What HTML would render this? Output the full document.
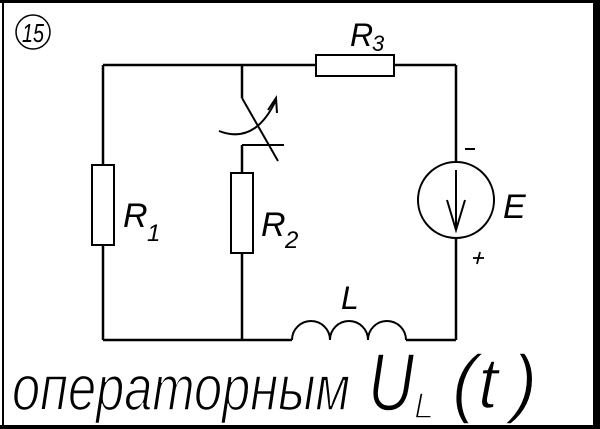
<!DOCTYPE html>
<html><head><meta charset="utf-8"><style>
html,body{margin:0;padding:0;background:#fff;}
svg{display:block;}
text{font-family:"Liberation Sans",sans-serif;font-style:italic;fill:#000;}
.thin{stroke:#fff;stroke-width:1.6;}
</style></head><body>
<svg width="600" height="429" viewBox="0 0 600 429" xmlns="http://www.w3.org/2000/svg">
<rect x="0" y="0" width="600" height="429" fill="#fff"/>
<line x1="3" y1="0" x2="3" y2="429" stroke="#000" stroke-width="2"/>
<line x1="0" y1="1.5" x2="600" y2="1.5" stroke="#000" stroke-width="3"/>
<rect x="593" y="0" width="7" height="429" fill="#000"/>
<rect x="0" y="425" width="600" height="4" fill="#000"/>
<circle cx="33" cy="32" r="17" fill="none" stroke="#000" stroke-width="1.5"/>
<text x="22" y="42" font-size="26" textLength="22" lengthAdjust="spacingAndGlyphs">15</text>
<g stroke="#000" stroke-width="2.5" fill="none">
<line x1="103" y1="65" x2="316" y2="65"/>
<line x1="394" y1="65" x2="456" y2="65"/>
<rect x="316" y="55" width="78" height="21" stroke-width="2"/>
<line x1="103" y1="65" x2="103" y2="165"/>
<rect x="92" y="165" width="22" height="80" stroke-width="2"/>
<line x1="103" y1="245" x2="103" y2="340"/>
<line x1="242" y1="65" x2="242" y2="98"/>
<line x1="242" y1="98" x2="278" y2="161" stroke-width="2"/>
<line x1="242" y1="145" x2="284" y2="145" stroke-width="2"/>
<line x1="242" y1="145" x2="242" y2="173"/>
<rect x="231" y="173" width="22" height="80" stroke-width="2"/>
<line x1="242" y1="253" x2="242" y2="340"/>
<line x1="103" y1="340" x2="292" y2="340"/>
<path d="M292 340 A19 19 0 0 1 330 340 A19 19 0 0 1 368 340 A19 19 0 0 1 406 340" stroke-width="2"/>
<line x1="406" y1="340" x2="456" y2="340"/>
<line x1="456" y1="65" x2="456" y2="162"/>
<line x1="456" y1="238" x2="456" y2="340"/>
<circle cx="456" cy="200" r="38" stroke-width="2"/>
<line x1="456" y1="170" x2="456" y2="230" stroke-width="2"/>
<polyline points="447,200 456,230 465,200" stroke-width="2"/>
<path d="M219 131 Q255 145 276 100" stroke-width="2"/>
<polyline points="268,110 276,98 277,113" stroke-width="2"/>
<line x1="465" y1="149" x2="475" y2="149" stroke-width="2"/>
<line x1="473" y1="258" x2="484" y2="258" stroke-width="1.8"/>
<line x1="480" y1="252" x2="477" y2="264" stroke-width="1.8"/>
</g>
<text x="350" y="46" font-size="32">R</text><text x="372" y="51" font-size="22">3</text>
<text x="123" y="227" font-size="34">R</text><text x="147" y="241" font-size="24">1</text>
<text x="261" y="236" font-size="34">R</text><text x="285" y="248" font-size="24">2</text>
<text x="341" y="309" font-size="32">L</text>
<text x="503" y="218" font-size="34">E</text>
<text class="thin" x="12" y="410" font-size="64" textLength="338" lengthAdjust="spacingAndGlyphs">операторным</text>
<text class="thin" x="368" y="410" font-size="82" textLength="46" lengthAdjust="spacingAndGlyphs">U</text>
<text class="thin" x="414" y="418" font-size="36">L</text>
<text class="thin" x="452" y="408" font-size="76">(</text>
<text class="thin" x="478" y="408" font-size="72">t</text>
<text class="thin" x="512" y="408" font-size="76">)</text>
</svg>
</body></html>
